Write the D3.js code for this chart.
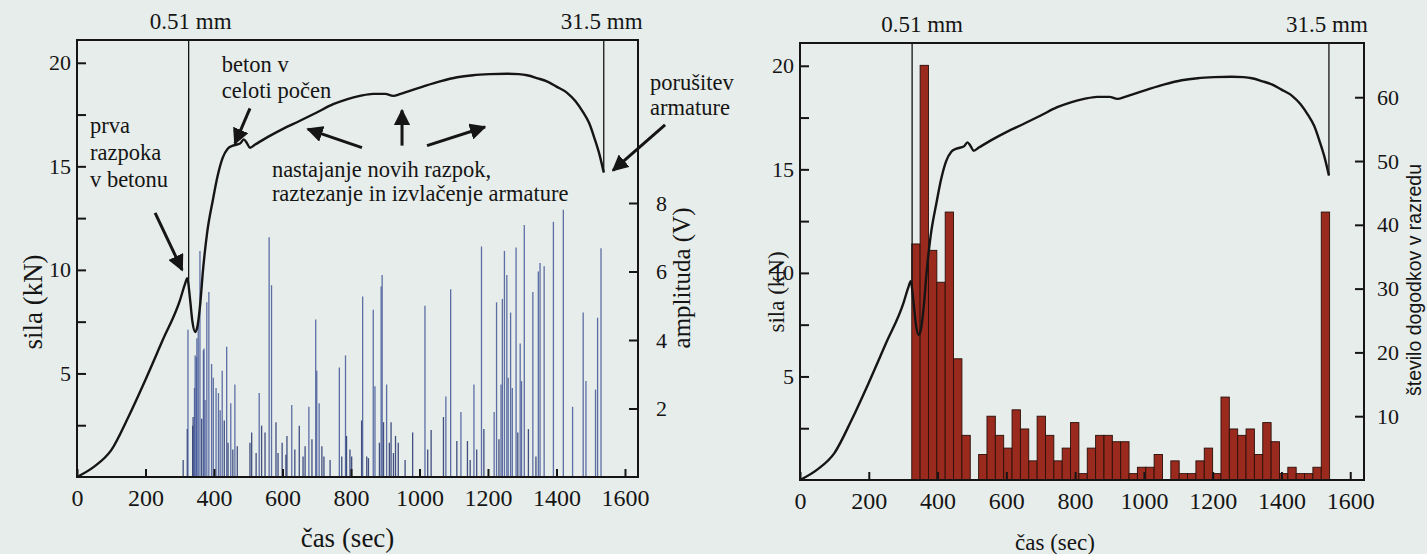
<!DOCTYPE html>
<html>
<head>
<meta charset="utf-8">
<title>Sila in akustična emisija</title>
<script src="https://d3js.org/d3.v7.min.js"></script>
</head>
<body style="margin:0;background:#e7edea">
<svg id="chart" width="1427" height="554"></svg>
<script>
// sila (kN) v odvisnosti od časa (s)
const forceTime = [0, 50, 100, 150, 200, 250, 300, 315, 322, 330, 337, 345, 352, 360, 368, 380, 397, 410, 425, 440, 455, 476, 487, 495, 505, 520, 555, 600, 651, 700, 748, 790, 826, 864, 900, 923, 945, 963, 1010, 1060, 1110, 1156, 1205, 1255, 1290, 1314, 1345, 1372, 1400, 1431, 1455, 1478, 1495, 1512, 1525, 1538];
const forceKN = [0, 0.5, 1.3, 2.9, 4.7, 6.6, 8.5, 9.3, 9.6, 8.6, 7.5, 7.0, 7.3, 8.4, 10.0, 11.8, 13.4, 14.5, 15.4, 15.85, 16.0, 16.1, 16.3, 16.15, 15.9, 16.05, 16.4, 16.8, 17.2, 17.6, 18.0, 18.25, 18.4, 18.5, 18.5, 18.4, 18.5, 18.6, 18.85, 19.1, 19.3, 19.4, 19.45, 19.47, 19.45, 19.4, 19.25, 19.1, 18.85, 18.55, 18.15, 17.6, 17.1, 16.3, 15.6, 14.7];

// AE dogodki: čas (s) in amplituda (V)
const hitTime = [310, 322, 324, 338, 339, 343, 345, 349, 350, 354, 359, 364, 369, 371, 374, 379, 385, 393, 398, 406, 413, 418, 424, 430, 437, 441, 449, 455, 461, 468, 505, 510, 523, 532, 539, 549, 561, 568, 581, 587, 599, 610, 613, 627, 636, 649, 660, 666, 677, 686, 697, 700, 707, 715, 721, 739, 766, 773, 784, 787, 797, 802, 831, 834, 846, 851, 865, 870, 883, 888, 891, 895, 904, 912, 917, 924, 930, 938, 958, 980, 1016, 1024, 1034, 1070, 1077, 1091, 1109, 1121, 1140, 1148, 1159, 1167, 1181, 1188, 1218, 1225, 1232, 1238, 1242, 1248, 1255, 1259, 1266, 1271, 1282, 1287, 1294, 1298, 1306, 1318, 1331, 1340, 1347, 1352, 1364, 1391, 1420, 1447, 1478, 1486, 1514, 1520, 1530];
const hitAmp = [0.5, 1.4, 4.3, 1.5, 1.75, 2.6, 3.55, 3.5, 4.05, 4.5, 6.6, 1.7, 3.7, 3.75, 2.25, 5.1, 5.4, 3.3, 2.9, 2.6, 2.45, 1.95, 3.1, 1.65, 3.8, 1.0, 2.15, 0.8, 2.7, 0.9, 1.0, 1.3, 0.7, 2.45, 1.5, 1.3, 7.0, 5.6, 1.6, 0.7, 1.0, 0.65, 1.2, 2.1, 0.8, 1.5, 0.6, 0.9, 2.05, 1.1, 4.6, 3.1, 2.15, 0.9, 0.6, 0.5, 3.2, 0.6, 3.55, 1.2, 0.8, 0.6, 1.65, 5.27, 0.6, 0.55, 4.88, 2.65, 1.0, 5.56, 5.9, 1.6, 2.7, 1.0, 1.6, 0.7, 1.2, 1.0, 0.5, 1.3, 5.0, 0.8, 1.37, 1.75, 2.35, 5.48, 1.05, 1.9, 1.05, 0.5, 2.7, 0.8, 6.73, 1.4, 1.9, 5.1, 1.1, 2.7, 5.2, 6.6, 5.9, 2.9, 4.8, 2.6, 6.7, 1.3, 3.9, 2.8, 7.36, 1.4, 5.4, 0.6, 6.0, 6.25, 6.15, 7.45, 7.8, 2.05, 4.8, 2.8, 2.55, 4.65, 6.68];

// histogram: število dogodkov v razredu
const binStart = 325;
const binWidth = 24.3;
const binCounts = [37, 65, 36, 31, 42, 19, 7, 0, 4, 10, 7, 5, 11, 8, 3, 10, 7, 3, 5, 9, 1, 5, 7, 7, 6, 6, 1, 2, 2, 4, 0, 3, 1, 1, 3, 5, 1, 13, 8, 7, 8, 4, 9, 6, 1, 2, 1, 1, 2, 42];

const timeTicks = [0, 200, 400, 600, 800, 1000, 1200, 1400, 1600];
const forceTicks = [2.5, 5, 7.5, 10, 12.5, 15, 17.5, 20];
const ampTicks = [2, 4, 6, 8];
const countTicks = [10, 20, 30, 40, 50, 60];
const markTime = [326, 1538];
const markLabel = ['0.51 mm', '31.5 mm'];

const ink = '#151515';
const serif = "'Liberation Serif'";
const svg = d3.select('#chart');

svg.append('defs').append('marker')
    .attr('id', 'head')
    .attr('viewBox', '0 0 10 10')
    .attr('refX', 9).attr('refY', 5)
    .attr('markerWidth', 5.5).attr('markerHeight', 5.5)
    .attr('orient', 'auto')
    .append('path')
    .attr('d', 'M0,0L10,5L0,10Z')
    .attr('fill', ink);

const forceAt = d3.scaleLinear().domain(forceTime).range(forceKN);

function fmtForce(d) { return d % 5 === 0 ? d : ''; }

function txt(sel, size) {
    return sel.attr('font-family', serif).attr('font-size', size).attr('fill', ink);
}

// restyle a d3 axis: no domain, serif labels, heavier ticks
function styleAxis(size) {
    return a => {
        a.attr('font-family', serif).attr('font-size', size);
        a.select('.domain').remove();
        a.selectAll('.tick line').attr('stroke', ink).attr('stroke-width', 2);
        a.selectAll('.tick text').call(t => txt(t, size));
    };
}

function drawPanel(cfg) {
    const g = svg.append('g');
    const x = d3.scaleLinear().domain([0, cfg.tMax]).range([cfg.left, cfg.right]);
    const y = d3.scaleLinear().domain([0, cfg.fMax]).range([cfg.bottom, cfg.top]);

    // second axis and its marks
    cfg.extra(g, x);

    // force curve
    const line = d3.line()
        .x((d, i) => x(forceTime[i]))
        .y(d => y(d))
        .curve(d3.curveMonotoneX);
    g.append('path')
        .datum(forceKN)
        .attr('d', line)
        .attr('fill', 'none')
        .attr('stroke', ink)
        .attr('stroke-width', 2.4);

    // displacement markers
    markTime.forEach((t, i) => {
        g.append('line')
            .attr('x1', x(t)).attr('x2', x(t))
            .attr('y1', cfg.top).attr('y2', y(forceAt(t)))
            .attr('stroke', ink).attr('stroke-width', 1.3);
        g.append('text')
            .attr('x', x(t) + cfg.markShift[i])
            .attr('y', cfg.top - 11)
            .attr('text-anchor', 'middle')
            .call(s => txt(s, 23))
            .text(markLabel[i]);
    });

    // axes
    g.append('g')
        .attr('transform', `translate(0,${cfg.bottom})`)
        .call(d3.axisBottom(x).tickValues(timeTicks).tickFormat(d3.format('d')).tickSize(-8).tickPadding(12))
        .call(styleAxis(24));
    g.append('g')
        .attr('transform', `translate(${cfg.left},0)`)
        .call(d3.axisLeft(y).tickValues(forceTicks).tickFormat(fmtForce).tickSize(-9).tickPadding(6))
        .call(styleAxis(22));

    g.append('rect')
        .attr('x', cfg.left).attr('y', cfg.top)
        .attr('width', cfg.right - cfg.left).attr('height', cfg.bottom - cfg.top)
        .attr('fill', 'none').attr('stroke', ink).attr('stroke-width', 2);

    // axis titles
    g.append('text')
        .attr('x', (cfg.left + cfg.right) / 2 + cfg.xTitleShift)
        .attr('y', cfg.bottom + 70)
        .attr('text-anchor', 'middle')
        .call(s => txt(s, cfg.titleSize))
        .text('čas (sec)');
    g.append('text')
        .attr('transform', `translate(${cfg.yTitleX},${cfg.yTitleY}) rotate(-90)`)
        .attr('text-anchor', 'middle')
        .call(s => txt(s, cfg.titleSize))
        .text('sila (kN)');

    return { g, x, y };
}

// ---- left panel: force + AE amplitude
const left = drawPanel({
    left: 77, right: 638, top: 40, bottom: 477, tMax: 1638, fMax: 21.1,
    xTitleShift: -10, yTitleX: 42, yTitleY: 302, titleSize: 27,
    markShift: [2, -2],
    extra: (g, x) => {
        const amp = d3.scaleLinear().domain([0, 8]).range([477, 203]);
        g.append('g')
            .selectAll('line')
            .data(hitTime)
            .join('line')
            .attr('x1', d => x(d)).attr('x2', d => x(d))
            .attr('y1', amp(0))
            .attr('y2', (d, i) => amp(hitAmp[i]))
            .attr('stroke', (d, i) => hitAmp[i] < 1.8 ? '#24346e' : '#46599a')
            .attr('stroke-width', 1.3)
            .attr('opacity', 0.85);
        g.append('g')
            .attr('transform', 'translate(638,0)')
            .call(d3.axisRight(amp).tickValues(ampTicks).tickSize(-9).tickPadding(18))
            .call(styleAxis(22));
        g.append('text')
            .attr('transform', 'translate(690,278) rotate(-90)')
            .attr('text-anchor', 'middle')
            .call(s => txt(s, 25))
            .text('amplituda (V)');
    }
});

// annotations (anchored in time / kN)
const notes = [
    { t: 38, f: 16.6, lines: ['prva', 'razpoka', 'v betonu'], gap: 27 },
    { t: 423, f: 19.55, lines: ['beton v', 'celoti počen'], gap: 26 },
    { t: 569, f: 14.5, lines: ['nastajanje novih razpok,', 'raztezanje in izvlačenje armature'], gap: 24 },
    { t: 1673, f: 18.7, lines: ['porušitev', 'armature'], gap: 25 }
];
const arrows = [
    [228, 12.75, 307, 10.0],
    [505, 17.8, 461, 16.1],
    [832, 15.9, 674, 16.8],
    [949, 16.0, 949, 17.7],
    [1022, 16.0, 1191, 16.9],
    [1717, 17.0, 1565, 14.8]
];
notes.forEach(n => {
    const tx = left.g.append('text').call(s => txt(s, 22.5));
    n.lines.forEach((s, i) => {
        tx.append('tspan')
            .attr('x', left.x(n.t))
            .attr('y', left.y(n.f) + i * n.gap)
            .text(s);
    });
});
left.g.append('g')
    .selectAll('line')
    .data(arrows)
    .join('line')
    .attr('x1', d => left.x(d[0])).attr('y1', d => left.y(d[1]))
    .attr('x2', d => left.x(d[2])).attr('y2', d => left.y(d[3]))
    .attr('stroke', ink)
    .attr('stroke-width', 3)
    .attr('marker-end', 'url(#head)');

// ---- right panel: force + histogram
drawPanel({
    left: 800, right: 1364, top: 43, bottom: 480, tMax: 1640, fMax: 21.1,
    xTitleShift: -27, yTitleX: 784, yTitleY: 292, titleSize: 23,
    markShift: [10, -2],
    extra: (g, x) => {
        const cnt = d3.scaleLinear().domain([0, 68.5]).range([480, 43]);
        g.append('g')
            .selectAll('rect')
            .data(binCounts)
            .join('rect')
            .attr('x', (d, i) => x(binStart + i * binWidth))
            .attr('width', x(binWidth) - x(0))
            .attr('y', d => cnt(d))
            .attr('height', d => cnt(0) - cnt(d))
            .attr('fill', '#992a1d')
            .attr('stroke', '#2a0f0a')
            .attr('stroke-width', 0.9);
        g.append('g')
            .attr('transform', 'translate(1364,0)')
            .call(d3.axisRight(cnt).tickValues(countTicks).tickSize(-9).tickPadding(13))
            .call(styleAxis(22));
        g.append('text')
            .attr('transform', 'translate(1421,280) rotate(-90)')
            .attr('text-anchor', 'middle')
            .attr('font-family', "'Liberation Sans'")
            .attr('font-size', 19.5)
            .attr('fill', ink)
            .text('število dogodkov v razredu');
    }
});
</script>
</body>
</html>
